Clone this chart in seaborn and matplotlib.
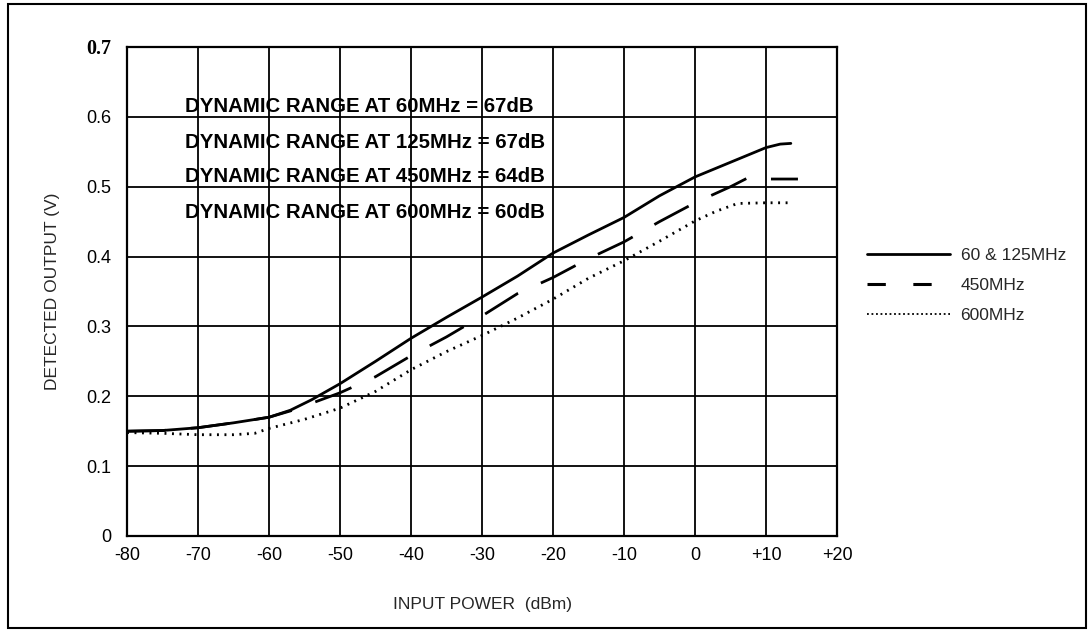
import matplotlib
matplotlib.use("Agg")
import matplotlib.pyplot as plt
import seaborn as sns
import pandas as pd
from matplotlib.patches import Rectangle

# ---- data ----
x_60_125 = [-80, -75, -70, -65, -60, -57, -54, -50, -45, -40, -35, -30, -25, -20, -15, -10, -5, 0, 5, 10, 12, 13.5]
y_60_125 = [0.150, 0.151, 0.155, 0.162, 0.170, 0.180, 0.195, 0.218, 0.250, 0.283, 0.313, 0.342, 0.372, 0.405, 0.431, 0.456, 0.487, 0.514, 0.535, 0.556, 0.561, 0.562]

x_450 = [-80, -75, -70, -65, -60, -57, -54, -50, -45, -40, -35, -30, -25, -20, -15, -10, -5, 0, 5, 7.5, 9.5, 12, 14.5]
y_450 = [0.150, 0.151, 0.155, 0.162, 0.170, 0.179, 0.190, 0.205, 0.228, 0.258, 0.285, 0.315, 0.347, 0.370, 0.397, 0.421, 0.450, 0.477, 0.500, 0.513, 0.511, 0.511, 0.511]

x_600 = [-80, -75, -70, -65, -62, -60, -55, -50, -45, -40, -35, -30, -25, -20, -15, -10, -5, 0, 3, 6, 10, 13.5]
y_600 = [0.148, 0.147, 0.145, 0.145, 0.147, 0.154, 0.167, 0.183, 0.207, 0.238, 0.264, 0.287, 0.312, 0.339, 0.369, 0.394, 0.422, 0.451, 0.465, 0.476, 0.477, 0.477]

series_labels = ["60 & 125MHz", "450MHz", "600MHz"]
x_ticks = [-80, -70, -60, -50, -40, -30, -20, -10, 0, 10, 20]
x_tick_labels = ["-80", "-70", "-60", "-50", "-40", "-30", "-20", "-10", "0", "+10", "+20"]
y_ticks = [0, 0.1, 0.2, 0.3, 0.4, 0.5, 0.6, 0.7]
y_tick_labels = ["0", "0.1", "0.2", "0.3", "0.4", "0.5", "0.6", "0.7"]
annotations = [
    "DYNAMIC RANGE AT 60MHz = 67dB",
    "DYNAMIC RANGE AT 125MHz = 67dB",
    "DYNAMIC RANGE AT 450MHz = 64dB",
    "DYNAMIC RANGE AT 600MHz = 60dB",
]

sns.set_style("white")
plt.rcParams["font.family"] = ["Liberation Sans", "DejaVu Sans"]

fig = plt.figure(figsize=(10.92, 6.32), dpi=100)
ax = fig.add_axes([127 / 1092, 1 - 536 / 632, (837 - 127) / 1092, (536 - 47) / 632])

df1 = pd.DataFrame({"x": x_60_125, "y": y_60_125})
df2 = pd.DataFrame({"x": x_450, "y": y_450})
df3 = pd.DataFrame({"x": x_600, "y": y_600})

sns.lineplot(data=df1, x="x", y="y", ax=ax, color="black", lw=2.0, label=series_labels[0], sort=False)
sns.lineplot(data=df2, x="x", y="y", ax=ax, color="black", lw=2.0, label=series_labels[1], sort=False)
ax.lines[-1].set_dashes((14, 9))
sns.lineplot(data=df3, x="x", y="y", ax=ax, color="black", lw=2.0, label=series_labels[2], sort=False)
ax.lines[-1].set_linestyle((0, (0.7, 2.0)))

ax.set_xlim(-80, 20)
ax.set_ylim(0, 0.7)
ax.set_xticks(x_ticks)
ax.set_xticklabels(x_tick_labels, fontsize=13)
ax.set_yticks(y_ticks)
ax.set_yticklabels(y_tick_labels, fontsize=13)
ylabs = ax.get_yticklabels()
ylabs[-1].set_fontfamily("Liberation Serif")
ylabs[-1].set_fontweight("bold")
ylabs[-1].set_fontsize(14.5)
ax.tick_params(axis="both", length=0, colors="black")
ax.tick_params(axis="y", pad=11)
ax.tick_params(axis="x", pad=8)
ax.grid(True, color="black", lw=1.3)
ax.set_axisbelow(True)
for s in ax.spines.values():
    s.set_color("black")
    s.set_linewidth(1.6)

ax.set_xlabel("INPUT POWER  (dBm)", fontsize=12.5, labelpad=24)
ax.set_ylabel("DETECTED OUTPUT (V)", fontsize=12.5, labelpad=19)

ann_y = [0.615, 0.564, 0.514, 0.463]
for txt, yy in zip(annotations, ann_y):
    ax.text(-71.8, yy, txt, fontsize=14.7, fontweight="bold", va="center", ha="left", color="black")

leg = ax.legend(loc="center left", bbox_to_anchor=(1.02, 0.513), frameon=False, fontsize=12.5,
                handlelength=4.8, handletextpad=0.6, labelspacing=0.85)
lines = leg.get_lines()
lines[0].set_linewidth(2.0)
lines[1].set_linewidth(2.2)
lines[1].set_dashes((6, 9))
lines[2].set_linewidth(1.3)
lines[2].set_linestyle((0, (1, 1.5)))

fig.add_artist(Rectangle((8 / 1092, 1 - 628 / 632), (1086 - 8) / 1092, (628 - 4) / 632,
                         transform=fig.transFigure, fill=False, edgecolor="black", lw=1.5))

fig.savefig("out.png", dpi=100)
